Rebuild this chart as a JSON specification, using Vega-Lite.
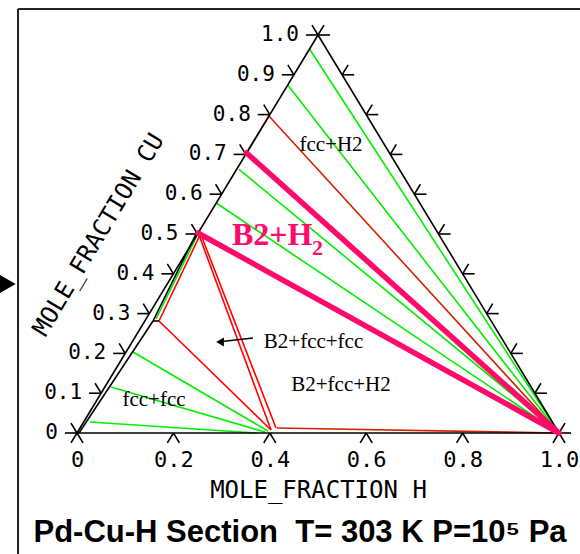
{
  "$schema": "https://vega.github.io/schema/vega-lite/v6.json",
  "width": 482,
  "height": 398,
  "autosize": {"type": "none"},
  "padding": {"left": 77, "top": 35, "right": 21, "bottom": 121},
  "background": "white",
  "config": {"view": {"stroke": null}},
  "datasets": {
    "segs": [
      {"k": "g", "x": 0.4824, "y": 0.9648, "x2": 1, "y2": 0},
      {"k": "g", "x": 0.4372, "y": 0.8744, "x2": 1, "y2": 0},
      {"k": "g", "x": 0.3361, "y": 0.6625, "x2": 1, "y2": 0},
      {"k": "g", "x": 0.2889, "y": 0.5779, "x2": 1, "y2": 0},
      {"k": "g", "x": 0.1162, "y": 0.2035, "x2": 0.3963, "y2": 0.005},
      {"k": "g", "x": 0.0705, "y": 0.1156, "x2": 0.39, "y2": 0.0025},
      {"k": "g", "x": 0.027, "y": 0.0276, "x2": 0.3734, "y2": 0},
      {"k": "g", "x": 0.1639, "y": 0.2864, "x2": 0.251, "y2": 0.5},
      {"k": "r", "x": 0.2552, "y": 0.4975, "x2": 0.1701, "y2": 0.2814},
      {"k": "r", "x": 0.2531, "y": 0.4975, "x2": 0.4025, "y2": 0.0075},
      {"k": "r", "x": 0.2573, "y": 0.4975, "x2": 0.4129, "y2": 0.0126},
      {"k": "r", "x": 0.1701, "y": 0.2814, "x2": 0.4025, "y2": 0.0075},
      {"k": "d", "x": 0.3518, "y": 0.7035, "x2": 0.3982, "y2": 0.7965},
      {"k": "d", "x": 0.3982, "y": 0.7965, "x2": 1, "y2": 0},
      {"k": "d", "x": 0.4149, "y": 0.0126, "x2": 1, "y2": 0},
      {"k": "k", "x": 0, "y": 0, "x2": 1, "y2": 0},
      {"k": "k", "x": 0, "y": 0, "x2": 0.5, "y2": 1},
      {"k": "k", "x": 0.5, "y": 1, "x2": 1, "y2": 0},
      {"k": "k", "x": 0.0041, "y": 0, "x2": 0.1577, "y2": 0.2814},
      {"k": "k", "x": 0.1577, "y": 0.2814, "x2": 0.2469, "y2": 0.5},
      {"k": "k", "x": 0.1577, "y": 0.2814, "x2": 0.1701, "y2": 0.2814},
      {"k": "k", "x": 0.3651, "y": 0.2387, "x2": 0.3008, "y2": 0.2299},
      {"k": "k", "x": 0, "y": 0, "x2": -0.0125, "y2": -0.025},
      {"k": "k", "x": 0, "y": 0, "x2": 0.0125, "y2": -0.025},
      {"k": "k", "x": 0.2, "y": 0, "x2": 0.1875, "y2": -0.025},
      {"k": "k", "x": 0.2, "y": 0, "x2": 0.2125, "y2": -0.025},
      {"k": "k", "x": 0.4, "y": 0, "x2": 0.3875, "y2": -0.025},
      {"k": "k", "x": 0.4, "y": 0, "x2": 0.4125, "y2": -0.025},
      {"k": "k", "x": 0.6, "y": 0, "x2": 0.5875, "y2": -0.025},
      {"k": "k", "x": 0.6, "y": 0, "x2": 0.6125, "y2": -0.025},
      {"k": "k", "x": 0.8, "y": 0, "x2": 0.7875, "y2": -0.025},
      {"k": "k", "x": 0.8, "y": 0, "x2": 0.8125, "y2": -0.025},
      {"k": "k", "x": 1, "y": 0, "x2": 0.9875, "y2": -0.025},
      {"k": "k", "x": 1, "y": 0, "x2": 1.0125, "y2": -0.025},
      {"k": "k", "x": 0, "y": 0, "x2": -0.025, "y2": 0},
      {"k": "k", "x": 0, "y": 0, "x2": -0.0125, "y2": 0.025},
      {"k": "k", "x": 0.05, "y": 0.1, "x2": 0.025, "y2": 0.1},
      {"k": "k", "x": 0.05, "y": 0.1, "x2": 0.0375, "y2": 0.125},
      {"k": "k", "x": 0.1, "y": 0.2, "x2": 0.075, "y2": 0.2},
      {"k": "k", "x": 0.1, "y": 0.2, "x2": 0.0875, "y2": 0.225},
      {"k": "k", "x": 0.15, "y": 0.3, "x2": 0.125, "y2": 0.3},
      {"k": "k", "x": 0.15, "y": 0.3, "x2": 0.1375, "y2": 0.325},
      {"k": "k", "x": 0.2, "y": 0.4, "x2": 0.175, "y2": 0.4},
      {"k": "k", "x": 0.2, "y": 0.4, "x2": 0.1875, "y2": 0.425},
      {"k": "k", "x": 0.25, "y": 0.5, "x2": 0.225, "y2": 0.5},
      {"k": "k", "x": 0.25, "y": 0.5, "x2": 0.2375, "y2": 0.525},
      {"k": "k", "x": 0.3, "y": 0.6, "x2": 0.275, "y2": 0.6},
      {"k": "k", "x": 0.3, "y": 0.6, "x2": 0.2875, "y2": 0.625},
      {"k": "k", "x": 0.35, "y": 0.7, "x2": 0.325, "y2": 0.7},
      {"k": "k", "x": 0.35, "y": 0.7, "x2": 0.3375, "y2": 0.725},
      {"k": "k", "x": 0.4, "y": 0.8, "x2": 0.375, "y2": 0.8},
      {"k": "k", "x": 0.4, "y": 0.8, "x2": 0.3875, "y2": 0.825},
      {"k": "k", "x": 0.45, "y": 0.9, "x2": 0.425, "y2": 0.9},
      {"k": "k", "x": 0.45, "y": 0.9, "x2": 0.4375, "y2": 0.925},
      {"k": "k", "x": 0.5, "y": 1, "x2": 0.475, "y2": 1},
      {"k": "k", "x": 0.5, "y": 1, "x2": 0.4875, "y2": 1.025},
      {"k": "k", "x": 1, "y": 0, "x2": 1.025, "y2": 0},
      {"k": "k", "x": 1, "y": 0, "x2": 1.0125, "y2": 0.025},
      {"k": "k", "x": 0.95, "y": 0.1, "x2": 0.975, "y2": 0.1},
      {"k": "k", "x": 0.95, "y": 0.1, "x2": 0.9625, "y2": 0.125},
      {"k": "k", "x": 0.9, "y": 0.2, "x2": 0.925, "y2": 0.2},
      {"k": "k", "x": 0.9, "y": 0.2, "x2": 0.9125, "y2": 0.225},
      {"k": "k", "x": 0.85, "y": 0.3, "x2": 0.875, "y2": 0.3},
      {"k": "k", "x": 0.85, "y": 0.3, "x2": 0.8625, "y2": 0.325},
      {"k": "k", "x": 0.8, "y": 0.4, "x2": 0.825, "y2": 0.4},
      {"k": "k", "x": 0.8, "y": 0.4, "x2": 0.8125, "y2": 0.425},
      {"k": "k", "x": 0.75, "y": 0.5, "x2": 0.775, "y2": 0.5},
      {"k": "k", "x": 0.75, "y": 0.5, "x2": 0.7625, "y2": 0.525},
      {"k": "k", "x": 0.7, "y": 0.6, "x2": 0.725, "y2": 0.6},
      {"k": "k", "x": 0.7, "y": 0.6, "x2": 0.7125, "y2": 0.625},
      {"k": "k", "x": 0.65, "y": 0.7, "x2": 0.675, "y2": 0.7},
      {"k": "k", "x": 0.65, "y": 0.7, "x2": 0.6625, "y2": 0.725},
      {"k": "k", "x": 0.6, "y": 0.8, "x2": 0.625, "y2": 0.8},
      {"k": "k", "x": 0.6, "y": 0.8, "x2": 0.6125, "y2": 0.825},
      {"k": "k", "x": 0.55, "y": 0.9, "x2": 0.575, "y2": 0.9},
      {"k": "k", "x": 0.55, "y": 0.9, "x2": 0.5625, "y2": 0.925},
      {"k": "k", "x": 0.5, "y": 1, "x2": 0.525, "y2": 1},
      {"k": "k", "x": 0.5, "y": 1, "x2": 0.5125, "y2": 1.025},
      {"k": "f", "x": -0.1224, "y": 1.0653, "x2": -0.1224, "y2": -0.4},
      {"k": "f", "x": -0.1224, "y": 1.0653, "x2": 1.2, "y2": 1.0653},
      {"k": "m", "x": 0.3518, "y": 0.7035, "x2": 1, "y2": 0},
      {"k": "m", "x": 0.251, "y": 0.5025, "x2": 1, "y2": 0}
    ],
    "cuLabels": [
      {"v": "0", "x": 0, "y": 0},
      {"v": "0.1", "x": 0.05, "y": 0.1},
      {"v": "0.2", "x": 0.1, "y": 0.2},
      {"v": "0.3", "x": 0.15, "y": 0.3},
      {"v": "0.4", "x": 0.2, "y": 0.4},
      {"v": "0.5", "x": 0.25, "y": 0.5},
      {"v": "0.6", "x": 0.3, "y": 0.6},
      {"v": "0.7", "x": 0.35, "y": 0.7},
      {"v": "0.8", "x": 0.4, "y": 0.8},
      {"v": "0.9", "x": 0.45, "y": 0.9},
      {"v": "1.0", "x": 0.5, "y": 1}
    ],
    "cuTitle": [{"t": "MOLE_FRACTION CU", "x": 0.0456, "y": 0.4975}],
    "regions": [
      {"t": "fcc+H2", "x": 0.527, "y": 0.7236},
      {"t": "B2+fcc+fcc", "x": 0.4907, "y": 0.2286},
      {"t": "B2+fcc+H2", "x": 0.5477, "y": 0.1206},
      {"t": "fcc+fcc", "x": 0.1598, "y": 0.0829}
    ],
    "b2h2": [{"t": "B2+H", "x": 0.3216, "y": 0.4724}],
    "b2h2sub": [{"t": "2", "x": 0.4876, "y": 0.4472}],
    "arrowHead": [{"x": 0.2967, "y": 0.2286}],
    "sideArrow": [{"x": -0.1452, "y": 0.3744}],
    "mainTitle": [{"t": "Pd-Cu-H Section\u00a0 T= 303 K P=10⁵ Pa", "x": 0.4627, "y": -0.2739}]
  },
  "layer": [
    {
      "data": {"name": "segs"},
      "transform": [{"filter": "datum.k != 'm' && datum.k != 'f'"}],
      "mark": {"type": "rule", "strokeCap": "butt", "strokeWidth": 1.6},
      "encoding": {
        "x": {
          "field": "x",
          "type": "quantitative",
          "scale": {"domain": [0, 1], "nice": false, "zero": false},
          "axis": {
            "values": [0, 0.2, 0.4, 0.6, 0.8, 1],
            "labelExpr": "datum.value == 0 ? '0' : format(datum.value, '.1f')",
            "domain": false,
            "ticks": false,
            "grid": false,
            "labelFlush": false,
            "labelOverlap": false,
            "labelFont": "DejaVu Sans Mono",
            "labelFontSize": 22,
            "labelColor": "black",
            "labelPadding": 16,
            "title": "MOLE_FRACTION H",
            "titleFont": "DejaVu Sans Mono",
            "titleFontSize": 24,
            "titleFontWeight": "normal",
            "titleColor": "black",
            "titlePadding": 8
          }
        },
        "y": {
          "field": "y",
          "type": "quantitative",
          "scale": {"domain": [0, 1], "nice": false, "zero": false},
          "axis": null
        },
        "x2": {"field": "x2"},
        "y2": {"field": "y2"},
        "color": {
          "field": "k",
          "type": "nominal",
          "scale": {
            "domain": ["g", "r", "d", "k"],
            "range": ["#00ee00", "#ff0000", "#d42200", "#000000"]
          },
          "legend": null
        }
      }
    },
    {
      "data": {"name": "segs"},
      "transform": [{"filter": "datum.k == 'f'"}],
      "mark": {"type": "rule", "strokeCap": "butt", "strokeWidth": 2, "color": "#222222"},
      "encoding": {
        "x": {"field": "x", "type": "quantitative"},
        "y": {"field": "y", "type": "quantitative"},
        "x2": {"field": "x2"},
        "y2": {"field": "y2"}
      }
    },
    {
      "data": {"name": "segs"},
      "transform": [{"filter": "datum.k == 'm'"}],
      "mark": {"type": "rule", "strokeCap": "round", "strokeWidth": 5.5, "color": "#ff0a6a"},
      "encoding": {
        "x": {"field": "x", "type": "quantitative"},
        "y": {"field": "y", "type": "quantitative"},
        "x2": {"field": "x2"},
        "y2": {"field": "y2"}
      }
    },
    {
      "data": {"name": "cuLabels"},
      "mark": {"type": "text", "align": "right", "baseline": "middle", "dx": -19, "font": "DejaVu Sans Mono", "fontSize": 21, "color": "black"},
      "encoding": {
        "x": {"field": "x", "type": "quantitative"},
        "y": {"field": "y", "type": "quantitative"},
        "text": {"field": "v"}
      }
    },
    {
      "data": {"name": "cuTitle"},
      "mark": {"type": "text", "align": "center", "baseline": "middle", "angle": 301, "font": "DejaVu Sans Mono", "fontSize": 24, "color": "black"},
      "encoding": {
        "x": {"field": "x", "type": "quantitative"},
        "y": {"field": "y", "type": "quantitative"},
        "text": {"field": "t"}
      }
    },
    {
      "data": {"name": "regions"},
      "mark": {"type": "text", "align": "center", "baseline": "middle", "font": "Liberation Serif", "fontSize": 21, "color": "black"},
      "encoding": {
        "x": {"field": "x", "type": "quantitative"},
        "y": {"field": "y", "type": "quantitative"},
        "text": {"field": "t"}
      }
    },
    {
      "data": {"name": "b2h2"},
      "mark": {"type": "text", "align": "left", "baseline": "alphabetic", "font": "Liberation Serif", "fontSize": 32, "fontWeight": "bold", "color": "#ff0a6a"},
      "encoding": {
        "x": {"field": "x", "type": "quantitative"},
        "y": {"field": "y", "type": "quantitative"},
        "text": {"field": "t"}
      }
    },
    {
      "data": {"name": "b2h2sub"},
      "mark": {"type": "text", "align": "left", "baseline": "alphabetic", "font": "Liberation Serif", "fontSize": 22, "fontWeight": "bold", "color": "#ff0a6a"},
      "encoding": {
        "x": {"field": "x", "type": "quantitative"},
        "y": {"field": "y", "type": "quantitative"},
        "text": {"field": "t"}
      }
    },
    {
      "data": {"name": "arrowHead"},
      "mark": {"type": "point", "shape": "triangle-left", "filled": true, "size": 80, "color": "black", "opacity": 1},
      "encoding": {
        "x": {"field": "x", "type": "quantitative"},
        "y": {"field": "y", "type": "quantitative"}
      }
    },
    {
      "data": {"name": "sideArrow"},
      "mark": {"type": "point", "shape": "triangle-right", "filled": true, "size": 400, "color": "black", "opacity": 1},
      "encoding": {
        "x": {"field": "x", "type": "quantitative"},
        "y": {"field": "y", "type": "quantitative"}
      }
    },
    {
      "data": {"name": "mainTitle"},
      "mark": {"type": "text", "align": "center", "baseline": "alphabetic", "font": "Liberation Sans", "fontSize": 31, "fontWeight": "bold", "color": "black"},
      "encoding": {
        "x": {"field": "x", "type": "quantitative"},
        "y": {"field": "y", "type": "quantitative"},
        "text": {"field": "t"}
      }
    }
  ]
}
